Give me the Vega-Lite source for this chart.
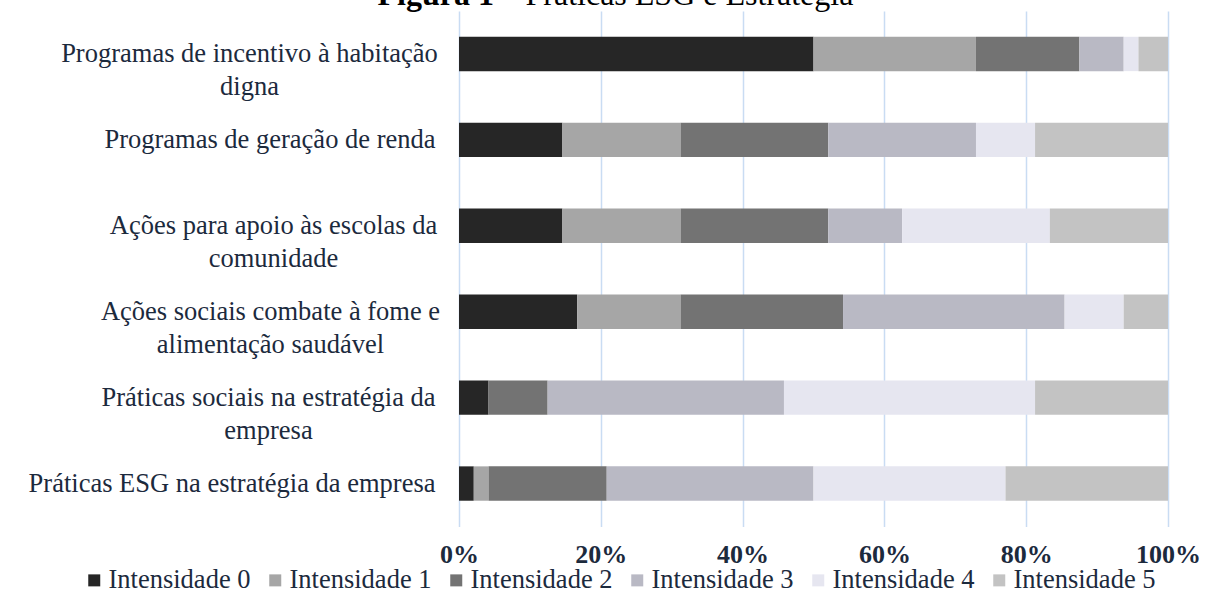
{
  "$schema": "https://vega.github.io/schema/vega-lite/v6.json",
  "width": 709,
  "height": 515.5,
  "autosize": {"type": "none"},
  "padding": {"left": 459, "top": 11, "right": 41, "bottom": 86.5},
  "background": "white",
  "data": {
    "values": [
      {"pratica": "Programas de incentivo à habitação digna", "intensidade": "Intensidade 0", "n": 24},
      {"pratica": "Programas de incentivo à habitação digna", "intensidade": "Intensidade 1", "n": 11},
      {"pratica": "Programas de incentivo à habitação digna", "intensidade": "Intensidade 2", "n": 7},
      {"pratica": "Programas de incentivo à habitação digna", "intensidade": "Intensidade 3", "n": 3},
      {"pratica": "Programas de incentivo à habitação digna", "intensidade": "Intensidade 4", "n": 1},
      {"pratica": "Programas de incentivo à habitação digna", "intensidade": "Intensidade 5", "n": 2},
      {"pratica": "Programas de geração de renda", "intensidade": "Intensidade 0", "n": 7},
      {"pratica": "Programas de geração de renda", "intensidade": "Intensidade 1", "n": 8},
      {"pratica": "Programas de geração de renda", "intensidade": "Intensidade 2", "n": 10},
      {"pratica": "Programas de geração de renda", "intensidade": "Intensidade 3", "n": 10},
      {"pratica": "Programas de geração de renda", "intensidade": "Intensidade 4", "n": 4},
      {"pratica": "Programas de geração de renda", "intensidade": "Intensidade 5", "n": 9},
      {"pratica": "Ações para apoio às escolas da comunidade", "intensidade": "Intensidade 0", "n": 7},
      {"pratica": "Ações para apoio às escolas da comunidade", "intensidade": "Intensidade 1", "n": 8},
      {"pratica": "Ações para apoio às escolas da comunidade", "intensidade": "Intensidade 2", "n": 10},
      {"pratica": "Ações para apoio às escolas da comunidade", "intensidade": "Intensidade 3", "n": 5},
      {"pratica": "Ações para apoio às escolas da comunidade", "intensidade": "Intensidade 4", "n": 10},
      {"pratica": "Ações para apoio às escolas da comunidade", "intensidade": "Intensidade 5", "n": 8},
      {"pratica": "Ações sociais combate à fome e alimentação saudável", "intensidade": "Intensidade 0", "n": 8},
      {"pratica": "Ações sociais combate à fome e alimentação saudável", "intensidade": "Intensidade 1", "n": 7},
      {"pratica": "Ações sociais combate à fome e alimentação saudável", "intensidade": "Intensidade 2", "n": 11},
      {"pratica": "Ações sociais combate à fome e alimentação saudável", "intensidade": "Intensidade 3", "n": 15},
      {"pratica": "Ações sociais combate à fome e alimentação saudável", "intensidade": "Intensidade 4", "n": 4},
      {"pratica": "Ações sociais combate à fome e alimentação saudável", "intensidade": "Intensidade 5", "n": 3},
      {"pratica": "Práticas sociais na estratégia da empresa", "intensidade": "Intensidade 0", "n": 2},
      {"pratica": "Práticas sociais na estratégia da empresa", "intensidade": "Intensidade 1", "n": 0},
      {"pratica": "Práticas sociais na estratégia da empresa", "intensidade": "Intensidade 2", "n": 4},
      {"pratica": "Práticas sociais na estratégia da empresa", "intensidade": "Intensidade 3", "n": 16},
      {"pratica": "Práticas sociais na estratégia da empresa", "intensidade": "Intensidade 4", "n": 17},
      {"pratica": "Práticas sociais na estratégia da empresa", "intensidade": "Intensidade 5", "n": 9},
      {"pratica": "Práticas ESG na estratégia da empresa", "intensidade": "Intensidade 0", "n": 1},
      {"pratica": "Práticas ESG na estratégia da empresa", "intensidade": "Intensidade 1", "n": 1},
      {"pratica": "Práticas ESG na estratégia da empresa", "intensidade": "Intensidade 2", "n": 8},
      {"pratica": "Práticas ESG na estratégia da empresa", "intensidade": "Intensidade 3", "n": 14},
      {"pratica": "Práticas ESG na estratégia da empresa", "intensidade": "Intensidade 4", "n": 13},
      {"pratica": "Práticas ESG na estratégia da empresa", "intensidade": "Intensidade 5", "n": 11}
    ]
  },
  "mark": {"type": "bar"},
  "encoding": {
    "y": {
      "field": "pratica",
      "type": "nominal",
      "sort": null,
      "scale": {"paddingInner": 0.6, "paddingOuter": 0.3},
      "axis": {
        "title": "Figura 1",
        "titleAngle": 0,
        "titleX": -82,
        "titleY": -7,
        "titleAlign": "left",
        "titleBaseline": "alphabetic",
        "titleFont": "Liberation Serif",
        "titleFontSize": 32,
        "titleFontWeight": "bold",
        "titleColor": "#000000",
        "labelExpr": "datum.value == 'Programas de incentivo à habitação digna' ? ['Programas de incentivo à habitação', 'digna'] : datum.value == 'Ações para apoio às escolas da comunidade' ? ['Ações para apoio às escolas da', 'comunidade'] : datum.value == 'Ações sociais combate à fome e alimentação saudável' ? ['Ações sociais combate à fome e', 'alimentação saudável'] : datum.value == 'Práticas sociais na estratégia da empresa' ? ['Práticas sociais na estratégia da', 'empresa'] : datum.value",
        "labelAlign": {"expr": "datum.value == 'Programas de incentivo à habitação digna' || datum.value == 'Ações para apoio às escolas da comunidade' || datum.value == 'Ações sociais combate à fome e alimentação saudável' || datum.value == 'Práticas sociais na estratégia da empresa' ? 'center' : 'right'"},
        "labelPadding": {"expr": "datum.value == 'Programas de incentivo à habitação digna' ? 210 : datum.value == 'Ações para apoio às escolas da comunidade' ? 186 : datum.value == 'Ações sociais combate à fome e alimentação saudável' ? 189 : datum.value == 'Práticas sociais na estratégia da empresa' ? 191 : 24"},
        "labelFont": "Liberation Serif",
        "labelFontSize": 26.5,
        "labelColor": "#1c2a3d",
        "labelLineHeight": 33,
        "labelLimit": 600,
        "ticks": false,
        "tickSize": 0,
        "domain": false,
        "grid": false
      }
    },
    "x": {
      "field": "n",
      "type": "quantitative",
      "stack": "normalize",
      "axis": {
        "values": [0, 0.2, 0.4, 0.6, 0.8, 1],
        "format": ".0%",
        "labelFont": "Liberation Serif",
        "labelFontSize": 26,
        "labelFontWeight": "bold",
        "labelColor": "#1c2a3d",
        "labelPadding": 15,
        "labelFlush": false,
        "labelOverlap": false,
        "ticks": false,
        "tickSize": 0,
        "domain": false,
        "grid": true,
        "gridColor": "#c9dcf3",
        "gridWidth": 1.5,
        "title": "– Práticas ESG e Estratégia",
        "titleX": 42,
        "titleY": -522.5,
        "titleAlign": "left",
        "titleAnchor": "start",
        "titleBaseline": "alphabetic",
        "titleFont": "Liberation Serif",
        "titleFontSize": 32,
        "titleFontWeight": "normal",
        "titleColor": "#000000"
      }
    },
    "color": {
      "field": "intensidade",
      "type": "nominal",
      "scale": {
        "domain": ["Intensidade 0", "Intensidade 1", "Intensidade 2", "Intensidade 3", "Intensidade 4", "Intensidade 5"],
        "range": ["#262626", "#a6a6a6", "#737373", "#b9b9c4", "#e6e6f0", "#c3c3c3"]
      },
      "legend": {
        "orient": "none",
        "legendX": -378,
        "legendY": 556,
        "direction": "horizontal",
        "title": null,
        "symbolType": "square",
        "symbolSize": 144,
        "symbolStrokeWidth": 0,
        "symbolOpacity": 1,
        "labelFont": "Liberation Serif",
        "labelFontSize": 26.5,
        "labelColor": "#1c2a3d",
        "labelOffset": 1,
        "columnPadding": 11,
        "labelLimit": 400
      }
    }
  },
  "config": {"view": {"stroke": null}}
}
